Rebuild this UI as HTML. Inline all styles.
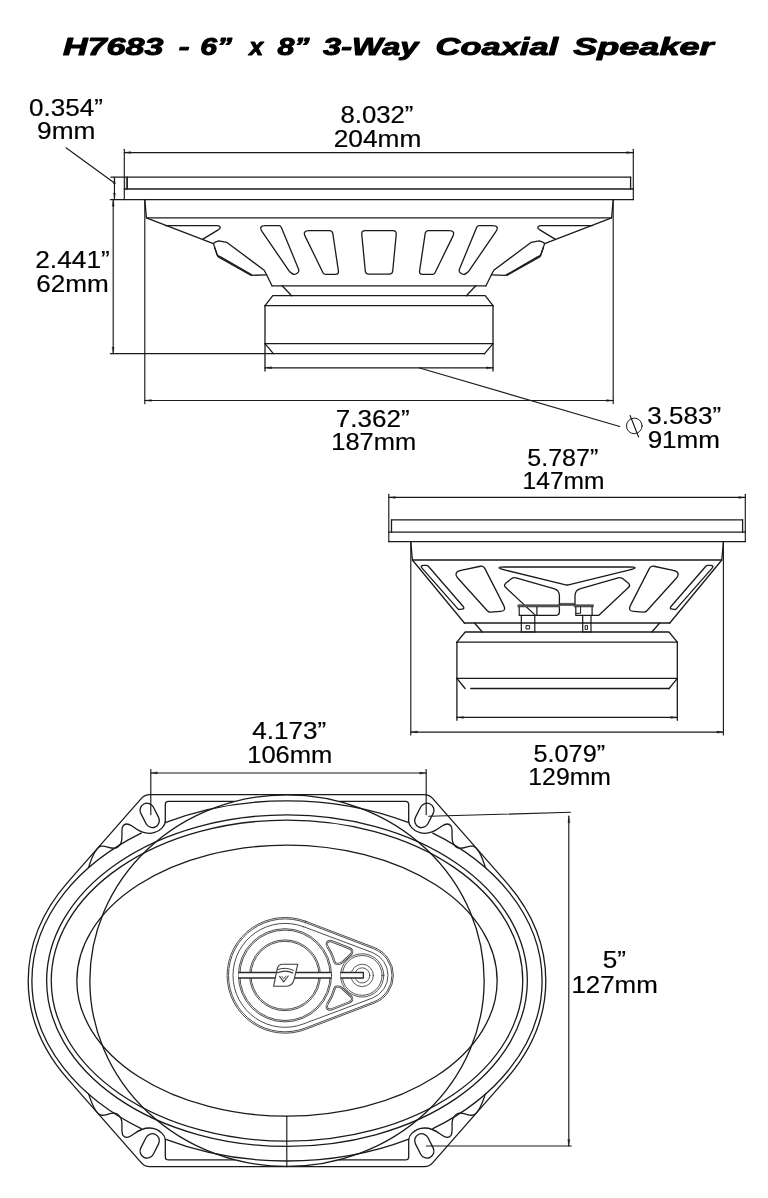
<!DOCTYPE html>
<html><head><meta charset="utf-8"><title>H7683 - 6” x 8” 3-Way Coaxial Speaker</title>
<style>
html,body{margin:0;padding:0;background:#fff}
svg{display:block;will-change:transform}
</style></head>
<body>
<svg width="768" height="1198" viewBox="0 0 768 1198">
<rect width="768" height="1198" fill="#fff"/>
<g font-family="'Liberation Sans', sans-serif" font-weight="bold" font-style="italic" fill="#000" stroke="#000" stroke-width="1.0" stroke-linejoin="round">
<text x="63.1" y="54.6" font-size="24.2" textLength="100.3" lengthAdjust="spacingAndGlyphs">H7683</text>
<text x="178.65" y="54.6" font-size="24.2" textLength="10.8" lengthAdjust="spacingAndGlyphs">-</text>
<text x="200.25" y="54.6" font-size="24.2" textLength="31.8" lengthAdjust="spacingAndGlyphs">6”</text>
<text x="249.3" y="54.6" font-size="24.2" textLength="13.9" lengthAdjust="spacingAndGlyphs">x</text>
<text x="277.4" y="54.6" font-size="24.2" textLength="32.05" lengthAdjust="spacingAndGlyphs">8”</text>
<text x="323.05" y="54.6" font-size="24.2" textLength="95.35" lengthAdjust="spacingAndGlyphs">3-Way</text>
<text x="435.6" y="54.6" font-size="24.2" textLength="122.55" lengthAdjust="spacingAndGlyphs">Coaxial</text>
<text x="573.25" y="54.6" font-size="24.2" textLength="140.25" lengthAdjust="spacingAndGlyphs">Speaker</text>
</g>
<g font-family="'Liberation Sans', sans-serif" fill="#000" stroke="#000" stroke-width="0.2">
<text x="29.1" y="115.5" font-size="24.5" textLength="73.75" lengthAdjust="spacingAndGlyphs">0.354”</text>
<text x="37.05" y="139.4" font-size="24.5" textLength="58.35" lengthAdjust="spacingAndGlyphs">9mm</text>
<text x="340.45" y="123" font-size="24.5" textLength="73" lengthAdjust="spacingAndGlyphs">8.032”</text>
<text x="333.7" y="146.7" font-size="24.5" textLength="87.6" lengthAdjust="spacingAndGlyphs">204mm</text>
<text x="35.25" y="268.2" font-size="24.5" textLength="74.5" lengthAdjust="spacingAndGlyphs">2.441”</text>
<text x="36.15" y="291.9" font-size="24.5" textLength="72.55" lengthAdjust="spacingAndGlyphs">62mm</text>
<text x="335.85" y="426.7" font-size="24.5" textLength="73.7" lengthAdjust="spacingAndGlyphs">7.362”</text>
<text x="331.3" y="450" font-size="24.5" textLength="84.8" lengthAdjust="spacingAndGlyphs">187mm</text>
<text x="647.3" y="424.2" font-size="24.5" textLength="73.75" lengthAdjust="spacingAndGlyphs">3.583”</text>
<text x="647.65" y="448.3" font-size="24.5" textLength="72.35" lengthAdjust="spacingAndGlyphs">91mm</text>
<text x="527.3" y="466" font-size="24.5" textLength="70.95" lengthAdjust="spacingAndGlyphs">5.787”</text>
<text x="522.6" y="488.8" font-size="24.5" textLength="81.9" lengthAdjust="spacingAndGlyphs">147mm</text>
<text x="533.6" y="762" font-size="24.5" textLength="71.45" lengthAdjust="spacingAndGlyphs">5.079”</text>
<text x="528.35" y="784.8" font-size="24.5" textLength="82.55" lengthAdjust="spacingAndGlyphs">129mm</text>
<text x="252.3" y="738.8" font-size="24.5" textLength="73.85" lengthAdjust="spacingAndGlyphs">4.173”</text>
<text x="247.2" y="763.4" font-size="24.5" textLength="85.1" lengthAdjust="spacingAndGlyphs">106mm</text>
<text x="602.8" y="968.2" font-size="24.5" textLength="23.25" lengthAdjust="spacingAndGlyphs">5”</text>
<text x="571.4" y="992.5" font-size="24.5" textLength="86.4" lengthAdjust="spacingAndGlyphs">127mm</text>
</g>
<g fill="none" stroke="#1a1a1a" stroke-width="1.3" stroke-linecap="round" stroke-linejoin="round">
<line x1="124.3" y1="149.3" x2="124.3" y2="199.6" stroke-width="1.15"/>
<line x1="633.3" y1="149.3" x2="633.3" y2="199.6" stroke-width="1.15"/>
<line x1="124.3" y1="152.6" x2="633.3" y2="152.6" stroke-width="1.15"/>
<path d="M124.3 152.6 L130.9 153.6 L130.9 151.6 Z" fill="#1a1a1a" stroke="#1a1a1a" stroke-width="0.2"/>
<path d="M633.3 152.6 L626.7 151.6 L626.7 153.6 Z" fill="#1a1a1a" stroke="#1a1a1a" stroke-width="0.2"/>
<line x1="110.9" y1="177.2" x2="630.6" y2="177.2"/>
<line x1="127.3" y1="177.2" x2="127.3" y2="189"/>
<line x1="126.3" y1="177.2" x2="126.3" y2="189" stroke-width="0.7"/>
<line x1="630.6" y1="177.2" x2="630.6" y2="189"/>
<line x1="124.3" y1="189" x2="633.3" y2="189"/>
<line x1="110.4" y1="199.6" x2="633.3" y2="199.6"/>
<line x1="114.45" y1="177.4" x2="114.45" y2="199.6" stroke-width="1.15"/>
<path d="M114.45 177.4 L113.45 184 L115.45 184 Z" fill="#1a1a1a" stroke="#1a1a1a" stroke-width="0.2"/>
<path d="M114.45 199.6 L115.45 193 L113.45 193 Z" fill="#1a1a1a" stroke="#1a1a1a" stroke-width="0.2"/>
<line x1="66" y1="147.8" x2="114.45" y2="183" stroke-width="1.15"/>
<line x1="113.2" y1="199.6" x2="113.2" y2="353.7" stroke-width="1.15"/>
<path d="M113.2 199.6 L112.2 206.2 L114.2 206.2 Z" fill="#1a1a1a" stroke="#1a1a1a" stroke-width="0.2"/>
<path d="M113.2 353.7 L114.2 347.1 L112.2 347.1 Z" fill="#1a1a1a" stroke="#1a1a1a" stroke-width="0.2"/>
<line x1="110.4" y1="353.7" x2="484.6" y2="353.7"/>
<line x1="144.8" y1="199.6" x2="144.8" y2="403.7" stroke-width="1.15"/>
<line x1="613.2" y1="199.6" x2="613.2" y2="403.7" stroke-width="1.15"/>
<line x1="144.8" y1="400.5" x2="613.2" y2="400.5" stroke-width="1.15"/>
<path d="M144.8 400.5 L151.4 401.5 L151.4 399.5 Z" fill="#1a1a1a" stroke="#1a1a1a" stroke-width="0.2"/>
<path d="M613.2 400.5 L606.6 399.5 L606.6 401.5 Z" fill="#1a1a1a" stroke="#1a1a1a" stroke-width="0.2"/>
<path d="M144.8 199.6 L146.4 217.8 L213.4 243.6"/>
<path d="M613.2 199.6 L611.6 217.8 L544.6 243.6"/>
<line x1="146.4" y1="217.8" x2="611.6" y2="217.8"/>
<path d="M213.4 243.6 L215.8 241.8 L218.9 240.9 L226.7 242.3 L264.2 270.2 L266.6 274.8 L272 285.8"/>
<path d="M544.6 243.6 L542.2 241.8 L539.1 240.9 L531.3 242.3 L493.8 270.2 L491.4 274.8 L486 285.8"/>
<path d="M213.4 243.6 L217.3 255.3 L220.5 256.9 L250.9 274.4 L252.5 275.3 L266.6 274.8"/>
<path d="M544.6 243.6 L540.7 255.3 L537.5 256.9 L507.1 274.4 L505.5 275.3 L491.4 274.8"/>
<path d="M214.6 247.5 L217.9 256.6 L251.2 275.5"/>
<path d="M543.4 247.5 L540.1 256.6 L506.8 275.5"/>
<line x1="272" y1="285.8" x2="486" y2="285.8"/>
<path d="M202.5 239.4 L218.6 229.6 Q221.3 227.6 219.5 226.2 Q218.6 225.6 217 225.6 L165.5 225.6"/>
<path d="M555.5 239.4 L539.4 229.6 Q536.7 227.6 538.5 226.2 Q539.4 225.6 541 225.6 L592.5 225.6"/>
<path d="M262.29 231.86 Q258 225.6 265.59 225.6 L278.59 225.6 Q280.6 225.6 281.37 227.45 L298.5 268.95 Q299.6 271.6 297.21 273.19 L296.32 273.79 Q294.2 275.2 292.2 273.62 L289.46 271.45 Q289.4 271.4 289.36 271.34 Z"/>
<path d="M495.71 231.86 Q500 225.6 492.41 225.6 L479.41 225.6 Q477.4 225.6 476.63 227.45 L459.5 268.95 Q458.4 271.6 460.79 273.19 L461.68 273.79 Q463.8 275.2 465.8 273.62 L468.54 271.45 Q468.6 271.4 468.64 271.34 Z"/>
<path d="M305.21 236.36 Q302.4 230.6 308.81 230.6 L329.38 230.6 Q332.4 230.6 332.84 233.59 L338.39 270.96 Q338.9 274.4 335.42 274.4 L325.67 274.4 Q323.8 274.4 322.98 272.72 Z"/>
<path d="M452.79 236.36 Q455.6 230.6 449.19 230.6 L428.62 230.6 Q425.6 230.6 425.16 233.59 L419.61 270.96 Q419.1 274.4 422.58 274.4 L432.33 274.4 Q434.2 274.4 435.02 272.72 Z"/>
<path d="M361.77 234.44 Q361.4 230.6 365.25 230.6 L392.75 230.6 Q396.6 230.6 396.23 234.44 L392.71 270.94 Q392.4 274.1 389.22 274.1 L368.78 274.1 Q365.6 274.1 365.29 270.94 Z"/>
<line x1="282.2" y1="285.8" x2="291.6" y2="295.7"/>
<line x1="475.8" y1="285.8" x2="466.4" y2="295.7"/>
<path d="M265 305.7 L272.8 295.7 L485.2 295.7 L493 305.7"/>
<line x1="265" y1="305.7" x2="493" y2="305.7"/>
<line x1="265" y1="305.7" x2="265" y2="371"/>
<line x1="493" y1="305.7" x2="493" y2="371"/>
<line x1="265" y1="343.7" x2="493" y2="343.7"/>
<line x1="265" y1="343.7" x2="273.4" y2="353.7"/>
<line x1="493" y1="343.7" x2="484.6" y2="353.7"/>
<line x1="265" y1="367.8" x2="493" y2="367.8" stroke-width="1.15"/>
<path d="M265 367.8 L271.6 368.8 L271.6 366.8 Z" fill="#1a1a1a" stroke="#1a1a1a" stroke-width="0.2"/>
<path d="M493 367.8 L486.4 366.8 L486.4 368.8 Z" fill="#1a1a1a" stroke="#1a1a1a" stroke-width="0.2"/>
<line x1="418.8" y1="367.8" x2="619.7" y2="426.5" stroke-width="1.15"/>
<circle cx="634.3" cy="425.9" r="7.8" stroke-width="1"/>
<line x1="630.1" y1="415.5" x2="638.6" y2="437" stroke-width="1.15"/>
<line x1="388.8" y1="494.3" x2="388.8" y2="541.7" stroke-width="1.15"/>
<line x1="745.3" y1="494.3" x2="745.3" y2="541.7" stroke-width="1.15"/>
<line x1="388.8" y1="497.4" x2="745.3" y2="497.4" stroke-width="1.15"/>
<path d="M388.8 497.4 L395.4 498.4 L395.4 496.4 Z" fill="#1a1a1a" stroke="#1a1a1a" stroke-width="0.2"/>
<path d="M745.3 497.4 L738.7 496.4 L738.7 498.4 Z" fill="#1a1a1a" stroke="#1a1a1a" stroke-width="0.2"/>
<line x1="391.5" y1="519.8" x2="742.6" y2="519.8"/>
<line x1="391.5" y1="519.8" x2="391.5" y2="532.1"/>
<line x1="742.6" y1="519.8" x2="742.6" y2="532.1"/>
<line x1="388.8" y1="532.1" x2="745.3" y2="532.1"/>
<line x1="388.8" y1="541.7" x2="745.3" y2="541.7"/>
<line x1="410.8" y1="541.7" x2="410.8" y2="734.9" stroke-width="1.15"/>
<line x1="723.4" y1="541.7" x2="723.4" y2="734.9" stroke-width="1.15"/>
<line x1="410.8" y1="732.1" x2="723.4" y2="732.1" stroke-width="1.15"/>
<path d="M410.8 732.1 L417.4 733.1 L417.4 731.1 Z" fill="#1a1a1a" stroke="#1a1a1a" stroke-width="0.2"/>
<path d="M723.4 732.1 L716.8 731.1 L716.8 733.1 Z" fill="#1a1a1a" stroke="#1a1a1a" stroke-width="0.2"/>
<path d="M410.8 541.7 L412.4 560 L464.4 623"/>
<path d="M723.4 541.7 L721.8 560 L669.8 623"/>
<line x1="412.4" y1="560" x2="721.8" y2="560"/>
<line x1="464.4" y1="623" x2="669.8" y2="623"/>
<path d="M422.25 568.4 Q419.6 565.4 423.6 565.4 L426.46 565.4 Q427.6 565.4 428.35 566.26 L463.02 606.29 Q465.2 608.8 461.9 609.2 L459.64 609.47 Q458.6 609.6 457.9 608.81 Z"/>
<path d="M711.95 568.4 Q714.6 565.4 710.6 565.4 L707.74 565.4 Q706.6 565.4 705.85 566.26 L671.18 606.29 Q669 608.8 672.3 609.2 L674.56 609.47 Q675.6 609.6 676.3 608.81 Z"/>
<path d="M458.38 578.7 Q452.6 572.3 461.03 570.47 L480.39 566.25 Q483.4 565.6 484.8 568.34 L503.84 605.59 Q506.6 611 500.54 611.4 L490.54 612.07 Q488.6 612.2 487.3 610.76 Z"/>
<path d="M675.82 578.7 Q681.6 572.3 673.17 570.47 L653.81 566.25 Q650.8 565.6 649.4 568.34 L630.36 605.59 Q627.6 611 633.66 611.4 L643.66 612.07 Q645.6 612.2 646.9 610.76 Z"/>
<path d="M505.43 570.15 Q492.5 567 505.81 567 L628.39 567 Q641.7 567 628.77 570.15 L568.52 584.85 Q567.1 585.2 565.68 584.85 Z"/>
<path d="M559.4 605 L559.4 596 Q559.4 590 553.8 588.6 L516 577.9 Q513.6 577.2 511.6 578.6 L505.4 583.6 Q503.6 585.6 505.8 587.6 L535.4 615.4"/>
<path d="M575 605 L575 596 Q575 590 580.6 588.6 L618.2 577.9 Q620.6 577.2 622.6 578.6 L628.8 583.6 Q630.6 585.6 628.4 587.6 L598.6 615.4 L592.1 615.4"/>
<path d="M536.9 615.4 L555.4 615.4 Q559.4 615.4 559.4 611.4 L559.4 607.1"/>
<rect x="518.1" y="604.7" width="41.3" height="2.3" fill="#555" stroke="#333" stroke-width="0.5"/>
<rect x="559.4" y="603.3" width="15" height="2.2" fill="#444" stroke="#333" stroke-width="0.5"/>
<rect x="574.4" y="604.7" width="19.1" height="2.3" fill="#555" stroke="#333" stroke-width="0.5"/>
<path d="M519.2 607.1 L519.2 615.4 L536.9 615.4 L536.9 607.1" stroke-width="1.2"/>
<path d="M521.3 615.4 L521.3 632 L534.8 632 L534.8 615.4" stroke-width="1.2"/>
<rect x="526.4" y="625.6" width="3.2" height="3.4" stroke-width="1"/>
<path d="M575.8 607.1 L575.8 615.4 L592.1 615.4 L592.1 607.1" stroke-width="1.2"/>
<path d="M580.6 607.1 L580.6 613.3 L575.8 613.3" stroke-width="1"/>
<path d="M582.7 615.4 L582.7 632 L591 632 L591 615.4" stroke-width="1.2"/>
<rect x="585.5" y="625.6" width="2" height="3.8" stroke-width="1"/>
<line x1="474.5" y1="623" x2="482.3" y2="632"/>
<line x1="659.7" y1="623" x2="651.9" y2="632"/>
<path d="M456.9 642.2 L465.2 632 L669 632 L677.3 642.2"/>
<line x1="456.9" y1="642.2" x2="677.3" y2="642.2"/>
<line x1="456.9" y1="642.2" x2="456.9" y2="720.3"/>
<line x1="677.3" y1="642.2" x2="677.3" y2="720.3"/>
<line x1="456.9" y1="678.3" x2="677.3" y2="678.3"/>
<line x1="456.9" y1="678.3" x2="465.1" y2="688.5"/>
<line x1="677.3" y1="678.3" x2="669.1" y2="688.5"/>
<line x1="470.8" y1="688.5" x2="669.1" y2="688.5"/>
<line x1="456.9" y1="717.4" x2="677.3" y2="717.4" stroke-width="1.15"/>
<path d="M456.9 717.4 L463.5 718.4 L463.5 716.4 Z" fill="#1a1a1a" stroke="#1a1a1a" stroke-width="0.2"/>
<path d="M677.3 717.4 L670.7 716.4 L670.7 718.4 Z" fill="#1a1a1a" stroke="#1a1a1a" stroke-width="0.2"/>
<line x1="150.8" y1="769.5" x2="150.8" y2="814.7" stroke-width="1.15"/>
<line x1="426.2" y1="769.5" x2="426.2" y2="814.7" stroke-width="1.15"/>
<line x1="150.8" y1="773" x2="426.2" y2="773" stroke-width="1.15"/>
<path d="M150.8 773 L157.4 774 L157.4 772 Z" fill="#1a1a1a" stroke="#1a1a1a" stroke-width="0.2"/>
<path d="M426.2 773 L419.6 772 L419.6 774 Z" fill="#1a1a1a" stroke="#1a1a1a" stroke-width="0.2"/>
<line x1="428.8" y1="816.3" x2="570.5" y2="812.3" stroke-width="1.15"/>
<line x1="426.3" y1="1146" x2="571.3" y2="1146" stroke-width="1.15"/>
<line x1="568.8" y1="816.1" x2="568.8" y2="1146" stroke-width="1.15"/>
<path d="M568.8 816.1 L567.8 822.7 L569.8 822.7 Z" fill="#1a1a1a" stroke="#1a1a1a" stroke-width="0.2"/>
<path d="M568.8 1146 L569.8 1139.4 L567.8 1139.4 Z" fill="#1a1a1a" stroke="#1a1a1a" stroke-width="0.2"/>
<path d="M149.7 794.6 L424.3 794.6 Q429.3 794.6 432.6 798.36 L506.14 882.13 A258.8 185.2 0 0 1 506.14 1079.17 L432.6 1162.94 Q429.3 1166.7 424.3 1166.7 L149.7 1166.7 Q144.7 1166.7 141.4 1162.94 L67.86 1079.17 A258.8 185.2 0 0 1 67.86 882.13 L141.4 798.36 Q144.7 794.6 149.7 794.6 Z"/>
<path d="M165.2 822.65 A255.1 180.1 0 0 1 408.8 822.65"/>
<path d="M165.2 1139.15 A255.1 180.1 0 0 0 408.8 1139.15"/>
<path d="M141.2 833.11 A255.1 180.1 0 0 0 141.2 1128.69"/>
<path d="M432.8 833.11 A255.1 180.1 0 0 1 432.8 1128.69"/>
<ellipse cx="287" cy="980.65" rx="240.35" ry="165.75"/>
<ellipse cx="287" cy="980.65" rx="235.75" ry="160.55"/>
<ellipse cx="287" cy="980.65" rx="210.15" ry="135.55"/>
<ellipse cx="287" cy="980.65" rx="197.15" ry="185.8"/>
<line x1="286.8" y1="1116.2" x2="286.8" y2="1166.7" stroke-width="1.15"/>
<path d="M234.5 801.4 L168.6 801.4 Q165.3 801.4 165.3 804.6 L165.3 821.6 C165 825.2 163.6 826.4 162.1 827.9 C159.4 830.6 155 833.2 149.6 833.3 C140.4 833.4 136.4 829 131.6 825.8 C128.4 823.7 125 823.2 123 826 C120.4 830 123.6 838.6 120.6 843.6 C119.2 846.2 117.2 848 114.6 848.2 C109 848.6 105.6 845.2 101 846.2 C96.4 847.4 91.6 858 88.6 867.4"/>
<rect x="142.7" y="802.6" width="14" height="25.6" rx="7" ry="7" transform="rotate(-27 149.7 815.4)"/>
<path d="M234.5 1159.9 L168.6 1159.9 Q165.3 1159.9 165.3 1156.7 L165.3 1139.7 C165 1136.1 163.6 1134.9 162.1 1133.4 C159.4 1130.7 155 1128.1 149.6 1128 C140.4 1127.9 136.4 1132.3 131.6 1135.5 C128.4 1137.6 125 1138.1 123 1135.3 C120.4 1131.3 123.6 1122.7 120.6 1117.7 C119.2 1115.1 117.2 1113.3 114.6 1113.1 C109 1112.7 105.6 1116.1 101 1115.1 C96.4 1113.9 91.6 1103.3 88.6 1093.9"/>
<rect x="142.7" y="1133.1" width="14" height="25.6" rx="7" ry="7" transform="rotate(27 149.7 1145.9)"/>
<path d="M339.5 801.4 L405.4 801.4 Q408.7 801.4 408.7 804.6 L408.7 821.6 C409 825.2 410.4 826.4 411.9 827.9 C414.6 830.6 419 833.2 424.4 833.3 C433.6 833.4 437.6 829 442.4 825.8 C445.6 823.7 449 823.2 451 826 C453.6 830 450.4 838.6 453.4 843.6 C454.8 846.2 456.8 848 459.4 848.2 C465 848.6 468.4 845.2 473 846.2 C477.6 847.4 482.4 858 485.4 867.4"/>
<rect x="417.3" y="802.6" width="14" height="25.6" rx="7" ry="7" transform="rotate(27 424.3 815.4)"/>
<path d="M339.5 1159.9 L405.4 1159.9 Q408.7 1159.9 408.7 1156.7 L408.7 1139.7 C409 1136.1 410.4 1134.9 411.9 1133.4 C414.6 1130.7 419 1128.1 424.4 1128 C433.6 1127.9 437.6 1132.3 442.4 1135.5 C445.6 1137.6 449 1138.1 451 1135.3 C453.6 1131.3 450.4 1122.7 453.4 1117.7 C454.8 1115.1 456.8 1113.3 459.4 1113.1 C465 1112.7 468.4 1116.1 473 1115.1 C477.6 1113.9 482.4 1103.3 485.4 1093.9"/>
<rect x="417.3" y="1133.1" width="14" height="25.6" rx="7" ry="7" transform="rotate(-27 424.3 1145.9)"/>
</g>
<g fill="none" stroke="#3a3a3a" stroke-width="0.8" stroke-linecap="round" stroke-linejoin="round">
<path d="M305.7 921.23 L374.25 947.47 A29.8 29.8 0 0 1 374.25 1003.13 L305.7 1029.37 A57.9 57.9 0 1 1 305.7 921.23 Z" stroke-width="0.9"/>
<path d="M305.2 922.53 L373.75 948.78 A28.4 28.4 0 0 1 373.75 1001.82 L305.2 1028.07 A56.5 56.5 0 1 1 305.2 922.53 Z" stroke-width="0.9"/>
<path d="M303.26 926.61 L372.17 952.45 A24.4 24.4 0 0 1 372.17 998.15 L303.26 1023.99 A52 52 0 1 1 303.26 926.61 Z" stroke-width="0.9"/>
<circle cx="285" cy="975.3" r="46.6" stroke-width="0.9"/>
<circle cx="285" cy="975.3" r="45.2" stroke-width="0.9"/>
<circle cx="285" cy="975.3" r="35.4" stroke-width="0.9"/>
<circle cx="285" cy="975.3" r="34" stroke-width="0.9"/>
<circle cx="362.2" cy="975.4" r="21.6" stroke-width="0.85"/>
<circle cx="362.2" cy="975.4" r="19.9" stroke-width="0.85"/>
<circle cx="362.2" cy="975.4" r="11.2" stroke-width="0.85"/>
<circle cx="362.2" cy="975.4" r="7.6" stroke-width="0.85"/>
<path d="M327.2 946.2 Q325.6 941 330.6 940.9 L349.6 948.4 Q353.6 950.4 351.4 953.8 L342.6 962 Q340.6 963.9 338 963.9 L337 963.9 Q335.2 963.9 334.6 962.2 A51.4 51.4 0 0 0 327.2 946.2 Z" stroke-width="2.3"/>
<path d="M327.2 946.2 Q325.6 941 330.6 940.9 L349.6 948.4 Q353.6 950.4 351.4 953.8 L342.6 962 Q340.6 963.9 338 963.9 L337 963.9 Q335.2 963.9 334.6 962.2 A51.4 51.4 0 0 0 327.2 946.2 Z" stroke-width="0.7" stroke="#fff"/>
<path d="M327.2 1004.4 Q325.6 1009.6 330.6 1009.7 L349.6 1002.2 Q353.6 1000.2 351.4 996.8 L342.6 988.6 Q340.6 986.7 338 986.7 L337 986.7 Q335.2 986.7 334.6 988.4 A51.4 51.4 0 0 1 327.2 1004.4 Z" stroke-width="2.3"/>
<path d="M327.2 1004.4 Q325.6 1009.6 330.6 1009.7 L349.6 1002.2 Q353.6 1000.2 351.4 996.8 L342.6 988.6 Q340.6 986.7 338 986.7 L337 986.7 Q335.2 986.7 334.6 988.4 A51.4 51.4 0 0 1 327.2 1004.4 Z" stroke-width="0.7" stroke="#fff"/>
<g stroke="#2a2a2a" stroke-width="1.3">
<rect x="238.6" y="972.5" width="92.4" height="5.5" fill="#fff" stroke="none"/>
<line x1="238.6" y1="972.5" x2="331" y2="972.5"/>
<line x1="238.6" y1="978" x2="331" y2="978"/>
<path d="M340.8 972.5 L363.4 972.5 L363.4 978 L340.8 978" fill="#fff"/>
</g>
<path d="M273.6 986.3 L277.2 968.8 Q278.4 964.2 282.6 964.2 L297.8 964.2 L294.2 979.2 Q292.4 986.3 286.4 986.3 Z" stroke-width="1.1" fill="#fff"/>
<path d="M277.8 969.6 Q285 966.6 293.6 970.4" stroke-width="1"/>
<path d="M277.6 972.6 Q285.5 969.4 292.6 972.8" stroke-width="1.3"/>
<path d="M279.6 976.4 L283.6 981.8 L288.2 976.0" stroke-width="1.1"/>
<path d="M281.8 976.2 L283.7 978.8 L285.8 976.0" stroke-width="0.8"/>
</g>
</svg>
</body></html>
